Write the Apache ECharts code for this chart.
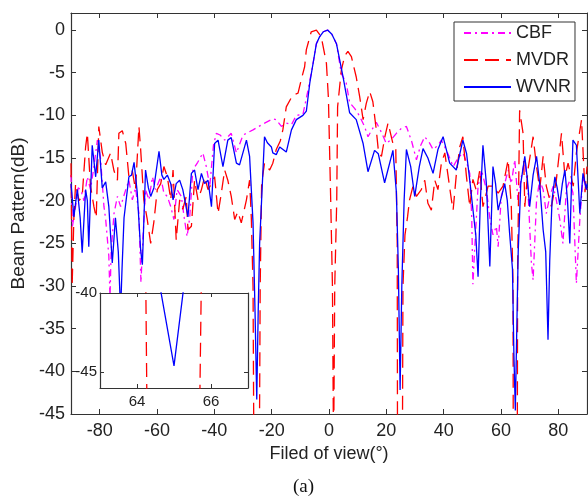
<!DOCTYPE html>
<html>
<head>
<meta charset="utf-8">
<script src="https://cdn.jsdelivr.net/npm/echarts@6/dist/echarts.min.js"></script>
<style>
html,body{margin:0;padding:0;background:#fff;}
#c{width:588px;height:501px;}
</style>
</head>
<body>
<div id="c"></div>
<script>
// ---- data (angle in degrees, beam pattern in dB) ----
const seriesNames = ['CBF', 'MVDR', 'WVNR'];

const cbf = [[-90,-17],[-89.5,-23],[-88.4,-20.7],[-87.5,-18.5],[-86.6,-18.7],[-85.5,-20],[-84.3,-17.2],[-83.2,-18.7],[-82,-16],[-80.8,-12.9],[-79.7,-15],[-78.5,-20.7],[-77.9,-22.2],[-76.8,-26.5],[-76.4,-31.5],[-76,-26],[-75,-21.5],[-73.8,-19.5],[-72.7,-20.7],[-70.9,-18.7],[-69.8,-17.6],[-68.6,-19.9],[-67.5,-18.5],[-66.3,-21.5],[-65.6,-29.6],[-65,-25],[-64,-18.7],[-62.8,-19.9],[-61.6,-17.2],[-60.5,-18.7],[-58.7,-17.2],[-57.6,-19.1],[-56.4,-19.5],[-55.2,-20.7],[-54.1,-22.2],[-53,-18.7],[-51.5,-19.5],[-50.5,-22],[-49.5,-24.2],[-48.6,-22],[-47.5,-16.4],[-45.8,-15.5],[-44,-14.4],[-42.8,-16],[-41.6,-18.3],[-40.3,-13.5],[-39.3,-12.1],[-38,-12.3],[-36.4,-12.9],[-34.1,-12.1],[-32.3,-14.4],[-31.8,-14.4],[-30,-12.3],[-29.4,-12.1],[-26.5,-11.7],[-23,-11],[-19.6,-10.4],[-18.4,-10.5],[-16.6,-11.3],[-14.9,-10.9],[-13.1,-11.1],[-11.4,-10],[-9.1,-9.9],[-7.3,-7],[-5.5,-3.8],[-4.4,-1.6],[-3.3,-0.8],[-2,-0.2],[-0.5,0],[1,-0.5],[2.6,-1.6],[4.3,-5.1],[6,-6.2],[7.2,-8.5],[9,-9.2],[10.7,-10.1],[12.4,-11.3],[13.6,-12.5],[15.3,-11.5],[16.5,-10.8],[18.3,-12],[20,-13.3],[21.8,-12.8],[23.5,-12.1],[25.3,-11.5],[27,-11.3],[28.8,-13],[30.5,-15.2],[32,-13.5],[33.4,-12.5],[35,-13.2],[36.3,-14],[38,-13.5],[39.2,-12.9],[41.5,-14.5],[43.3,-16],[45,-15],[46.7,-14.4],[48,-15.5],[49.1,-16.8],[49.8,-22],[50.2,-29.8],[50.8,-25.8],[52,-18.3],[53.2,-16.4],[54.9,-18.7],[56.1,-22],[57.2,-24],[58.4,-23],[59,-25.4],[60.1,-19.5],[61.3,-18],[62.5,-16.4],[63.6,-18],[64.8,-15.2],[65.9,-19.9],[67.1,-17.2],[68.3,-15.2],[69.4,-18.7],[70.6,-27.3],[71.2,-29.3],[72.4,-19.9],[73.5,-17.6],[74.7,-18.7],[75.8,-21.5],[77,-19.5],[78.2,-18.3],[79.3,-19.9],[80.5,-22.2],[81.6,-25],[82.8,-18.7],[84,-17.6],[85.1,-19.1],[86.3,-29.7],[87.5,-22.2],[88.6,-17.2],[89.8,-18.7],[90,-18.5]];

const mvdr = [[-90,-15.6],[-89.6,-30],[-89,-22],[-88.4,-18],[-87.2,-20],[-86.1,-19.5],[-84.9,-13.7],[-84.3,-12.1],[-83.2,-18.3],[-82,-20.7],[-81.2,-22],[-80.3,-11.3],[-79.1,-14.3],[-77.9,-15.8],[-76.2,-14.4],[-75,-16.5],[-73.8,-17.6],[-73.3,-12.1],[-72.1,-11.8],[-70.9,-13.3],[-69.8,-17.2],[-68.6,-16.5],[-67.5,-18.7],[-66.3,-11.3],[-65.7,-14],[-64.6,-19.9],[-63.4,-22.2],[-62.2,-25],[-61.1,-22.5],[-59.9,-18.7],[-58.7,-18],[-57.6,-16],[-56.4,-17.2],[-55.2,-19.9],[-54.4,-16.4],[-53.3,-24.6],[-52.1,-19.9],[-51,-21],[-49.8,-19.5],[-49.2,-23.4],[-48,-23],[-46.9,-17.6],[-45.7,-19.9],[-44.5,-18.7],[-43.4,-17.2],[-42.2,-18.7],[-41,-18],[-39.9,-17.2],[-38.7,-21.5],[-37.6,-19.2],[-36.4,-16.4],[-35.3,-17.6],[-34.1,-19.5],[-32.9,-22.2],[-31.8,-21.3],[-30.6,-22.6],[-28.8,-19.9],[-27.7,-17.6],[-27.1,-22],[-26.5,-30],[-26.2,-50],[-25.2,-60],[-24.3,-50],[-24,-30],[-23.5,-18],[-22.5,-15.6],[-20.7,-16.4],[-19.6,-15.6],[-18.4,-14],[-17,-13],[-16.1,-11.7],[-14.9,-9],[-14.3,-8.8],[-12.6,-7.6],[-10.8,-7.4],[-9.6,-5.7],[-8.5,-4.3],[-7.9,-2.3],[-6.2,-0.2],[-4.4,0],[-2.7,-0.8],[-0.9,-3.9],[-0.2,-8],[0.6,-20],[1.2,-30],[1.6,-50],[2.0,-30],[2.7,-20],[3.0,-9],[4.3,-4.7],[5.5,-3],[6.6,-2.5],[7.8,-3.1],[9.5,-5.5],[10.7,-7.8],[11.9,-10.5],[13,-8.6],[14.2,-7.2],[15.3,-8.4],[16.5,-11.7],[17.3,-14.4],[18.3,-14.8],[19.5,-12.5],[20.6,-10.9],[22.3,-13.3],[23.3,-14],[23.8,-25],[23.9,-50],[24.8,-60],[25.6,-50],[25.8,-30],[26.5,-24],[27.4,-21.9],[28.1,-19.9],[29.3,-18.3],[30.5,-19.5],[32.2,-18.7],[33.4,-17.6],[34.5,-20.3],[35.7,-21.1],[36.9,-17.6],[38,-18.7],[39.2,-15.6],[40.4,-14.4],[41.5,-17],[42.7,-19.9],[43.3,-21.1],[44.4,-17],[45.6,-13.7],[46.7,-12.5],[47.9,-17],[49.1,-20.7],[50.2,-17.5],[51.4,-18.8],[52.6,-16.4],[53.7,-20.7],[55.5,-18.3],[57.2,-18.3],[59,-19.1],[60.7,-18.3],[62.5,-15.2],[63.6,-20.7],[64.2,-30],[64.28,-50],[65,-60],[65.68,-50],[65.8,-28],[66.5,-9.4],[67.7,-12.1],[68.3,-20.7],[69.4,-16.4],[71.2,-12.5],[72.4,-16],[73.5,-18.7],[74.7,-14.8],[75.8,-18.3],[77.6,-20.7],[79.3,-17.6],[81.1,-12.1],[82.3,-17.2],[83.4,-15.6],[85.2,-18.3],[86.3,-14.4],[88.1,-10.5],[89.3,-19],[90,-16]];

const wvnr = [[-90,-18],[-89,-21.9],[-87.8,-18.7],[-86.8,-22],[-86.1,-26.1],[-84.9,-18.7],[-84.3,-20],[-83.8,-25.4],[-82.6,-13.5],[-81.4,-17.2],[-80.3,-12.9],[-79.1,-18.5],[-77.9,-17.8],[-76.8,-20.7],[-75.6,-27.3],[-74.5,-22],[-73.5,-26],[-72.7,-33],[-72.2,-28],[-71.5,-22],[-69.8,-17.2],[-68.9,-17],[-68,-15.5],[-66.9,-19],[-65.7,-25.8],[-65.1,-27.5],[-64,-16.4],[-63,-18.5],[-62.2,-19.5],[-61.1,-18.5],[-59.3,-14.2],[-58.3,-17],[-57.6,-17.5],[-56.4,-17],[-55.2,-18],[-54.4,-19.9],[-53.3,-18],[-52.1,-17.6],[-51,-18.7],[-49.2,-21.9],[-48,-16.8],[-46.9,-16.4],[-45.7,-18.7],[-44.5,-16.8],[-43.4,-18],[-42.2,-17.6],[-41,-20.7],[-39.9,-13.3],[-38.7,-12.9],[-37,-16],[-35.3,-12.9],[-34.1,-12.6],[-32.3,-15.6],[-31.2,-15.8],[-28.8,-12.9],[-27.7,-14.8],[-26.5,-22.6],[-25.8,-33],[-25.2,-43.3],[-24.7,-33],[-24.2,-25],[-22.5,-12.5],[-21.5,-13.2],[-20.1,-13.7],[-19.6,-14.4],[-18.4,-14.6],[-17.2,-13.7],[-16.6,-13.7],[-14.9,-14.3],[-13.1,-11.7],[-11.4,-10.5],[-9.1,-10],[-7.9,-9.5],[-6.7,-6.2],[-5.5,-3.8],[-4.4,-1.6],[-3.3,-0.8],[-2,-0.2],[-0.5,0],[1,-0.5],[2.6,-1.6],[4.9,-5.5],[6,-7.5],[7.2,-9.7],[9.5,-10.5],[11.9,-13.3],[13.6,-16.6],[15.9,-14.1],[17.2,-14.5],[19.4,-17.9],[22.3,-14.1],[23.5,-19],[24.2,-28],[24.8,-42.2],[25.4,-30],[26.2,-20],[27,-14],[28.5,-16],[29.9,-19.5],[31.5,-16],[32.8,-13.9],[34.5,-15],[36.3,-16.8],[38,-14],[39.8,-12.5],[42.1,-15.6],[44.4,-16.4],[46.7,-12.9],[48,-14.5],[49.1,-17.6],[50.2,-21],[51.2,-24],[52,-28.9],[52.8,-20],[53.7,-13.5],[54.9,-18],[56.1,-27.7],[57.2,-16],[58.1,-18],[59,-21.1],[60.2,-19.5],[61.3,-18],[62.2,-20],[63,-23.8],[64,-28],[64.5,-38],[65,-44.6],[65.35,-38],[66,-26],[66.9,-18],[68.3,-14.8],[69.2,-17.5],[70,-20.7],[71.2,-17],[72.4,-14.8],[73.5,-18],[74.7,-23.4],[75.6,-26],[76.4,-36.3],[77,-27],[77.8,-20],[78.8,-17.2],[79.6,-18.5],[80.5,-20.5],[81.4,-18],[82.3,-16.4],[83.2,-20],[84,-25],[84.6,-18],[85.1,-12.9],[86.3,-13.5],[87.5,-21.5],[88.6,-16.8],[89.8,-18.7],[90,-18]];

const xTicks = [-80, -60, -40, -20, 0, 20, 40, 60, 80];
const yTicks = [-45, -40, -35, -30, -25, -20, -15, -10, -5, 0];
const insetXTicks = [64, 66];
const insetYTicks = [-45, -40];

// ---- styling ----
const FONT = '"Liberation Sans", Arial, sans-serif';
const AX = '#333';
const styles = [
  { color: '#ff00ff', type: [7, 4, 2, 4] },
  { color: '#ff0000', type: [14, 7] },
  { color: '#0000ff', type: 'solid' }
];
const datasets = [cbf, mvdr, wvnr];

function axisBase(extra) {
  return Object.assign({
    type: 'value',
    axisLine: { show: true, onZero: false, lineStyle: { color: AX, width: 1.2 } },
    splitLine: { show: false },
    axisTick: { show: true, inside: true, length: 5, lineStyle: { color: AX, width: 1 } },
    axisLabel: { show: false }
  }, extra);
}

const chart = echarts.init(document.getElementById('c'), null, { renderer: 'canvas' });

const series = [];
datasets.forEach((d, i) => {
  series.push({
    name: seriesNames[i], type: 'line', data: d, xAxisIndex: 0, yAxisIndex: 0,
    symbol: 'none', clip: true, z: 2 + i * 0.1, animation: false,
    lineStyle: { color: styles[i].color, width: 1.3, type: styles[i].type },
    itemStyle: { color: styles[i].color }
  });
});
datasets.forEach((d, i) => {
  series.push({
    type: 'line', data: d, xAxisIndex: 2, yAxisIndex: 2,
    symbol: 'none', clip: true, z: 8, animation: false, silent: true,
    lineStyle: { color: styles[i].color, width: 1.3, type: styles[i].type },
    itemStyle: { color: styles[i].color }
  });
});

chart.setOption({
  animation: false,
  backgroundColor: '#fff',
  grid: [
    { left: 71, top: 13, width: 516, height: 401 },
    { left: 100, top: 293, width: 148, height: 95, show: true, backgroundColor: '#fff', borderWidth: 0, z: 6 }
  ],
  xAxis: [
    axisBase({ gridIndex: 0, position: 'bottom', min: -90, max: 90,
      axisTick: { show: true, inside: true, length: 5, customValues: xTicks, lineStyle: { color: AX } },
      axisLabel: { show: true, customValues: xTicks, fontSize: 18, fontFamily: FONT, color: '#222', margin: 8 },
      name: 'Filed of view(°)', nameLocation: 'middle', nameGap: 30,
      nameTextStyle: { fontSize: 18, fontFamily: FONT, color: '#222' } }),
    axisBase({ gridIndex: 0, position: 'top', min: -90, max: 90,
      axisTick: { show: true, inside: true, length: 5, customValues: xTicks, lineStyle: { color: AX } } }),
    axisBase({ gridIndex: 1, position: 'bottom', min: 63, max: 67, z: 7,
      axisTick: { show: true, inside: true, length: 4, customValues: insetXTicks, lineStyle: { color: AX } },
      axisLabel: { show: true, customValues: insetXTicks, fontSize: 15, fontFamily: FONT, color: '#222', margin: 6 } }),
    axisBase({ gridIndex: 1, position: 'top', min: 63, max: 67, z: 7,
      axisTick: { show: true, inside: true, length: 4, customValues: insetXTicks, lineStyle: { color: AX } } })
  ],
  yAxis: [
    axisBase({ gridIndex: 0, position: 'left', min: -45, max: 2,
      axisTick: { show: true, inside: true, length: 5, customValues: yTicks, lineStyle: { color: AX } },
      axisLabel: { show: true, customValues: yTicks, fontSize: 18, fontFamily: FONT, color: '#222', margin: 6 },
      name: 'Beam Pattern(dB)', nameLocation: 'middle', nameGap: 40,
      nameTextStyle: { fontSize: 19, fontFamily: FONT, color: '#222' } }),
    axisBase({ gridIndex: 0, position: 'right', min: -45, max: 2,
      axisTick: { show: true, inside: true, length: 5, customValues: yTicks, lineStyle: { color: AX } } }),
    axisBase({ gridIndex: 1, position: 'left', min: -46, max: -40, z: 7,
      axisTick: { show: true, inside: true, length: 4, customValues: insetYTicks, lineStyle: { color: AX } },
      axisLabel: { show: true, customValues: insetYTicks, fontSize: 15, fontFamily: FONT, color: '#222', margin: 3 } }),
    axisBase({ gridIndex: 1, position: 'right', min: -46, max: -40, z: 7,
      axisTick: { show: true, inside: true, length: 4, customValues: insetYTicks, lineStyle: { color: AX } } })
  ],
  legend: {
    data: seriesNames,
    orient: 'vertical',
    left: 454, top: 22,
    padding: [2, 4, 5, 9],
    itemGap: 9,
    itemWidth: 47, itemHeight: 20,
    itemStyle: { opacity: 0 },
    backgroundColor: '#fff',
    borderColor: '#333', borderWidth: 1, borderRadius: 0,
    textStyle: { fontSize: 18, fontFamily: FONT, color: '#222' },
    selectedMode: false,
    z: 20
  },
  graphic: [
    { type: 'text', left: 293, top: 478, z: 20,
      style: { text: '(a)', font: '19px "Liberation Serif", "Times New Roman", serif', fill: '#111' } }
  ],
  series: series
});
</script>
</body>
</html>
